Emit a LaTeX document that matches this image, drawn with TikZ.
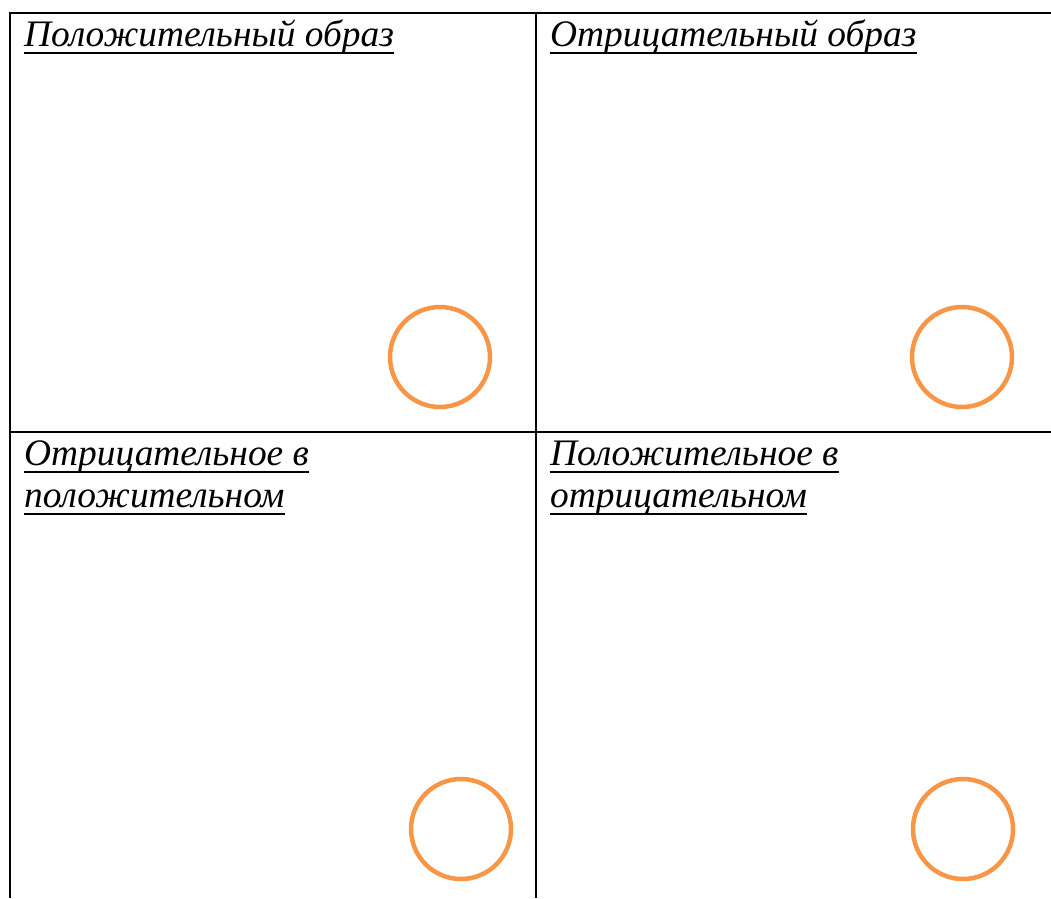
\documentclass[tikz,border=0pt]{standalone}
\usepackage{fontspec}
\setmainfont{Liberation Serif}
\definecolor{ring}{HTML}{F79646}
\begin{document}
\begin{tikzpicture}[x=1pt,y=-1pt,
  grid/.style={line width=2.2pt,black},
  ringc/.style={draw=ring,line width=4.5pt},
  lbl/.style={anchor=base west,inner sep=0pt,font=\fontsize{37.4}{42}\selectfont\itshape},
  ul/.style={line width=2pt,black}]
\useasboundingbox (0,0) rectangle (1051,898);
\draw[grid] (10,13) -- (1051,13);
\draw[grid] (10,432) -- (1051,432);
\draw[grid] (10,12) -- (10,898);
\draw[grid] (536,12) -- (536,898);
% labels
\node[lbl] (t1) at (24,46) {Положительный образ};
\node[lbl] (t2) at (550,46) {Отрицательный образ};
\node[lbl] (t3) at (24,465) {Отрицательное в};
\node[lbl] (t4) at (24,507) {положительном};
\node[lbl] (t5) at (550,465) {Положительное в};
\node[lbl] (t6) at (550,507) {отрицательном};
\foreach \n in {t1,t2,t3,t4,t5,t6}
  \draw[ul] ([yshift=-6.5pt]\n.base west) -- ([yshift=-6.5pt]\n.base east);
% circles
\node[ringc,circle,minimum size=100pt,inner sep=0pt] (c1) at (440,357) {};
\node[ringc,circle,minimum size=100pt,inner sep=0pt] (c2) at (962,357) {};
\node[ringc,circle,minimum size=100pt,inner sep=0pt] (c3) at (461,829) {};
\node[ringc,circle,minimum size=100pt,inner sep=0pt] (c4) at (963,829) {};
\end{tikzpicture}
\end{document}
